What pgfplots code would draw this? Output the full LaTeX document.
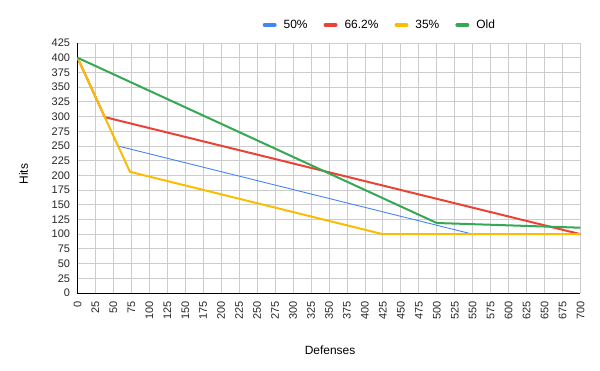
\documentclass[border=0pt]{standalone}
\usepackage{pgfplots}
\pgfplotsset{compat=1.18}
\usepackage{fontspec}
\setmainfont{Liberation Sans}
\definecolor{gblue}{HTML}{4285F4}
\definecolor{gred}{HTML}{EA4335}
\definecolor{gyellow}{HTML}{FBBC04}
\definecolor{ggreen}{HTML}{34A853}
\definecolor{ggrid}{HTML}{CCCCCC}
\begin{document}
\begin{tikzpicture}
\path[use as bounding box] (-77.5bp,-78bp) rectangle (522.5bp,293bp);
\begin{axis}[
  scale only axis,
  width=503bp, height=250bp,
  xmin=0, xmax=700, ymin=0, ymax=425,
  xtick={0,25,...,700}, ytick={0,25,...,425},
  grid=major,
  major grid style={ggrid, line width=0.8bp},
  axis x line*=bottom, axis y line*=left,
  axis line style={black, line width=0.8bp, -},
  major tick length=0pt,
  /pgf/number format/assume math mode=true,
  /pgf/number format/1000 sep={},
  tick label style={font=\fontsize{11}{13}\selectfont, text=black!85},
  xticklabel style={rotate=90, anchor=east, xshift=-5bp},
  yticklabel style={anchor=east, xshift=-4bp},
  xlabel={Defenses}, ylabel={Hits},
  label style={font=\fontsize{12}{14}\selectfont},
  xlabel style={at={(axis description cs:0.502,-0.228)}, anchor=center},
  ylabel style={at={(axis description cs:-0.107,0.476)}, anchor=center, rotate=0},
  legend columns=-1,
  legend style={draw=none, fill=none, font=\fontsize{12}{14}\selectfont,
    at={(axis description cs:0.601,1.072)}, anchor=center,
    /tikz/every odd column/.append style={column sep=5bp},
    /tikz/every even column/.append style={column sep=14bp}},
  legend image code/.code={\draw[#1, line width=4bp, line cap=round] (1bp,0bp) -- (11bp,0bp);},
  legend cell align=left,
]
\addplot[gblue, line width=0.9bp] coordinates {(0,400) (56,250) (550,100) (700,100)};
\addlegendentry{50\%}
\addplot[gred, line width=2bp] coordinates {(0,400) (38,299) (700,100)};
\addlegendentry{66.2\%}
\addplot[gyellow, line width=2bp] coordinates {(0,400) (73,206) (425,100) (700,100)};
\addlegendentry{35\%}
\addplot[ggreen, line width=2bp] coordinates {(0,400) (500,119) (700,111)};
\addlegendentry{Old}
\end{axis}
\end{tikzpicture}
\end{document}
